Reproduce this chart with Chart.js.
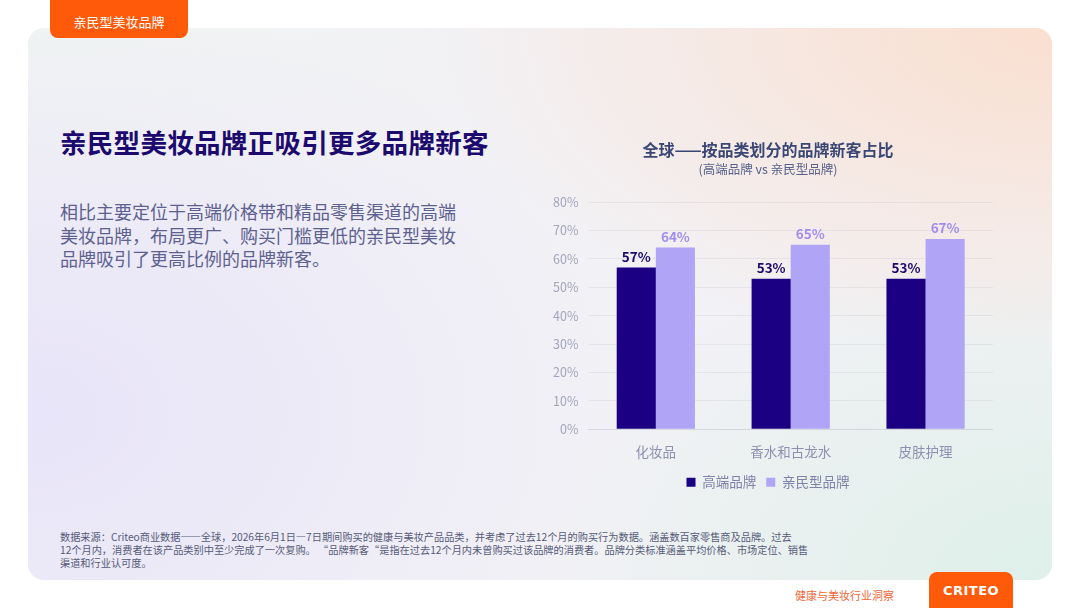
<!DOCTYPE html>
<html lang="zh">
<head>
<meta charset="utf-8">
<script src="https://cdn.jsdelivr.net/npm/chart.js@4/dist/chart.umd.min.js"></script>
<style>
  html, body { margin: 0; padding: 0; }
  body {
    width: 1080px; height: 608px; position: relative; overflow: hidden;
    background: #fff;
    font-family: "Noto Sans CJK SC", "Noto Sans", sans-serif;
  }
  .card {
    position: absolute; left: 28px; top: 28px; width: 1024px; height: 552px;
    border-radius: 16px;
    background:
      radial-gradient(ellipse 620px 330px at 100% 0%, rgba(250,222,205,0.95), rgba(250,222,205,0) 100%),
      radial-gradient(ellipse 520px 340px at 100% 100%, rgba(222,240,233,1), rgba(222,240,233,0) 100%),
      radial-gradient(ellipse 600px 420px at 0% 70%, rgba(232,228,249,1), rgba(232,228,249,0) 100%),
      radial-gradient(ellipse 500px 260px at 0% 0%, rgba(240,244,242,1), rgba(240,244,242,0) 100%),
      #f2f1f5;
  }
  .tab {
    position: absolute; left: 50px; top: 0; width: 138px; height: 38px;
    background: #ff5a0a; border-radius: 0 0 8px 8px;
    color: #fff; font-size: 13px; text-align: center; line-height: 44px;
  }
  h1 {
    position: absolute; left: 60px; top: 122px; margin: 0;
    font-size: 26.5px; font-weight: 700; color: #1c0a6e; letter-spacing: 0.3px;
  }
  .lead {
    position: absolute; left: 60px; top: 200px; margin: 0; white-space: nowrap;
    font-size: 18px; line-height: 23.5px; color: #5d6190;
  }
  .note {
    position: absolute; left: 60px; top: 530px; margin: 0;
    font-size: 10.2px; line-height: 13px; color: #565b78; white-space: nowrap;
  }
  .foot {
    position: absolute; left: 795px; top: 587px;
    font-size: 11px; color: #f0673a;
  }
  .logo {
    position: absolute; left: 929px; top: 572px; width: 84px; height: 40px;
    background: #ff5a0a; border-radius: 8px 8px 0 0;
    color: #fff; font-family: "DejaVu Sans", sans-serif; font-weight: 700;
    font-size: 13px; text-align: center; line-height: 38px; letter-spacing: 0.5px;
  }
  #wrap { position: absolute; left: 543px; top: 135px; width: 450px; height: 366px; }
</style>
</head>
<body>
<div class="card"></div>
<div class="tab">亲民型美妆品牌</div>
<h1>亲民型美妆品牌正吸引更多品牌新客</h1>
<p class="lead">相比主要定位于高端价格带和精品零售渠道的高端<br>美妆品牌，布局更广、购买门槛更低的亲民型美妆<br>品牌吸引了更高比例的品牌新客。</p>
<p class="note">数据来源：Criteo商业数据——全球，2026年6月1日—7日期间购买的健康与美妆产品品类，并考虑了过去12个月的购买行为数据。涵盖数百家零售商及品牌。过去<br>12个月内，消费者在该产品类别中至少完成了一次复购。 “品牌新客“是指在过去12个月内未曾购买过该品牌的消费者。品牌分类标准涵盖平均价格、市场定位、销售<br>渠道和行业认可度。</p>
<div class="foot">健康与美妆行业洞察</div>
<div class="logo">CRITEO</div>
<div id="wrap"><canvas id="chart"></canvas></div>

<script>
const categories = ["化妆品", "香水和古龙水", "皮肤护理"];
const premiumValues = [57, 53, 53];
const massValues = [64, 65, 67];
const seriesNames = ["高端品牌", "亲民型品牌"];
const chartTitle = "全球——按品类划分的品牌新客占比";
const chartSubtitle = "(高端品牌 vs 亲民型品牌)";

const FONT = '"Noto Sans CJK SC", "Noto Sans", sans-serif';

// draws the value above each bar
const valueLabels = {
  id: "valueLabels",
  afterDatasetsDraw(chart) {
    const ctx = chart.ctx;
    ctx.save();
    ctx.font = "bold 13.5px " + FONT;
    ctx.textAlign = "center";
    ctx.textBaseline = "bottom";
    chart.data.datasets.forEach((ds, i) => {
      const meta = chart.getDatasetMeta(i);
      ctx.fillStyle = ds.labelColor;
      meta.data.forEach((bar, j) => {
        ctx.fillText(ds.data[j] + "%", bar.x, bar.y - 4);
      });
    });
    ctx.restore();
  }
};

new Chart(document.getElementById("chart"), {
  type: "bar",
  data: {
    labels: categories,
    datasets: [
      {
        label: seriesNames[0],
        data: premiumValues,
        backgroundColor: "#1b0083",
        labelColor: "#1c0a6e",
      },
      {
        label: seriesNames[1],
        data: massValues,
        backgroundColor: "#b0a4f6",
        labelColor: "#9d8ef0",
      },
    ],
  },
  options: {
    responsive: true,
    maintainAspectRatio: false,
    animation: false,
    layout: { padding: { left: 0, right: 0, top: 0, bottom: 2 } },
    datasets: { bar: { categoryPercentage: 0.58, barPercentage: 1 } },
    plugins: {
      title: {
        display: true,
        text: chartTitle,
        color: "#3a4775",
        font: { family: FONT, size: 16, weight: "bold" },
        padding: { top: 5, bottom: 3 },
      },
      subtitle: {
        display: true,
        text: chartSubtitle,
        color: "#56608a",
        font: { family: FONT, size: 12.5 },
        padding: { top: 0, bottom: 25 },
      },
      legend: {
        position: "bottom",
        labels: {
          color: "#7e82a8",
          font: { family: FONT, size: 13.5 },
          boxWidth: 9,
          boxHeight: 9,
          padding: 10,
        },
      },
      tooltip: { enabled: false },
    },
    scales: {
      x: {
        grid: { display: false },
        border: { display: true, color: "rgba(120,120,150,0.12)" },
        ticks: {
          color: "#8d90b0",
          font: { family: FONT, size: 13.5 },
          padding: 6,
        },
      },
      y: {
        min: 0,
        max: 80,
        grid: { color: "rgba(120,120,150,0.10)", drawTicks: false },
        border: { display: false },
        ticks: {
          stepSize: 10,
          color: "#a2a5bd",
          font: { family: FONT, size: 12.5 },
          padding: 10,
          callback: (v) => v + "%",
        },
      },
    },
  },
  plugins: [valueLabels],
});
</script>
</body>
</html>
